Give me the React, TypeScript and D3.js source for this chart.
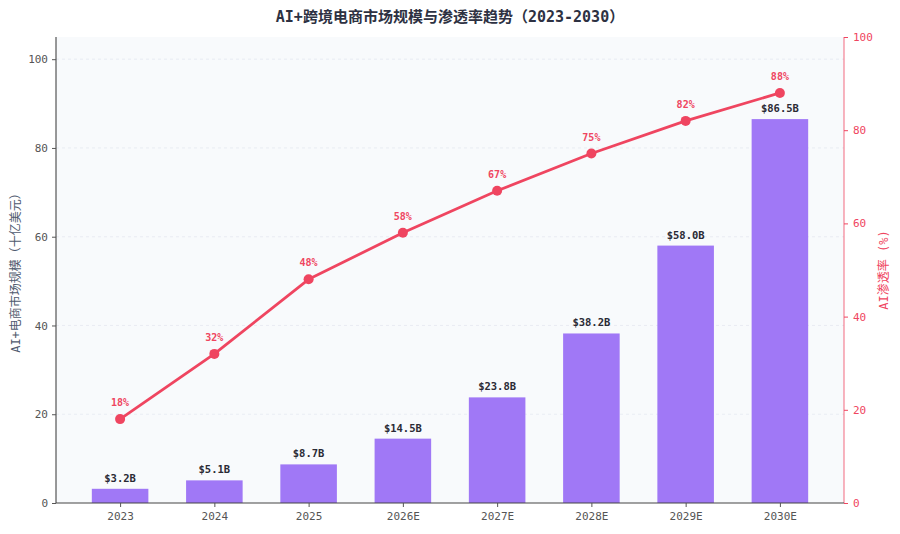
import React, { useRef, useEffect } from 'react';
import * as d3 from 'd3';

const years = ['2023', '2024', '2025', '2026E', '2027E', '2028E', '2029E', '2030E'];
const marketSize = [3.2, 5.1, 8.7, 14.5, 23.8, 38.2, 58.0, 86.5];
const penetration = [18, 32, 48, 58, 67, 75, 82, 88];
const leftTicks = [0, 20, 40, 60, 80, 100];
const rightTicks = [0, 20, 40, 60, 80, 100];

const W = 900;
const H = 534;
const MONO = '"DejaVu Sans Mono", "Noto Sans CJK SC", monospace';
const BAR = '#a078f6';
const LINE = '#ef4560';

export default function App() {
  const ref = useRef<SVGSVGElement | null>(null);

  useEffect(() => {
    document.body.style.margin = '0';
    if (!ref.current) return;
    const margin = { top: 37, right: 56, bottom: 31, left: 56 };
    const width = W - margin.left - margin.right;
    const height = H - margin.top - margin.bottom;

    const svg = d3.select(ref.current);
    svg.selectAll('*').remove();
    svg.append('rect').attr('width', W).attr('height', H).attr('fill', '#fff');

    const g = svg.append('g').attr('transform', `translate(${margin.left}, ${margin.top})`);

    const x = d3.scalePoint<string>().domain(years).range([0, width]).padding(0.68);
    const step = x.step();
    const barW = step * 0.6;
    const y = d3.scaleLinear().domain([0, 105]).range([height, 0]);
    const y2 = d3.scaleLinear().domain([0, 100]).range([height, 0]);

    g.append('rect').attr('width', width).attr('height', height).attr('fill', '#f8fafc');

    // grid
    g.append('g')
      .selectAll('line')
      .data(leftTicks.slice(1))
      .join('line')
      .attr('x1', 0)
      .attr('x2', width)
      .attr('y1', d => y(d))
      .attr('y2', d => y(d))
      .attr('stroke', '#e5e9f0')
      .attr('stroke-dasharray', '3,3')
      .attr('stroke-width', 0.8);

    // bars
    g.append('g')
      .selectAll('rect')
      .data(marketSize)
      .join('rect')
      .attr('x', (d, i) => (x(years[i]) as number) - barW / 2)
      .attr('y', d => y(d))
      .attr('width', barW)
      .attr('height', d => height - y(d))
      .attr('fill', BAR);

    g.append('g')
      .selectAll('text')
      .data(marketSize)
      .join('text')
      .attr('x', (d, i) => x(years[i]) as number)
      .attr('y', d => y(d) - 7)
      .attr('text-anchor', 'middle')
      .attr('font-family', MONO)
      .attr('font-size', 10.5)
      .attr('font-weight', 'bold')
      .attr('fill', '#2a2a35')
      .text(d => `$${d.toFixed(1)}B`);

    // line
    const line = d3.line<number>()
      .x((d, i) => x(years[i]) as number)
      .y(d => y2(d));

    g.append('path')
      .datum(penetration)
      .attr('fill', 'none')
      .attr('stroke', LINE)
      .attr('stroke-width', 2.8)
      .attr('stroke-linejoin', 'round')
      .attr('d', line);

    g.append('g')
      .selectAll('circle')
      .data(penetration)
      .join('circle')
      .attr('cx', (d, i) => x(years[i]) as number)
      .attr('cy', d => y2(d))
      .attr('r', 5)
      .attr('fill', LINE);

    g.append('g')
      .selectAll('text')
      .data(penetration)
      .join('text')
      .attr('x', (d, i) => x(years[i]) as number)
      .attr('y', d => y2(d) - 13)
      .attr('text-anchor', 'middle')
      .attr('font-family', MONO)
      .attr('font-size', 10)
      .attr('font-weight', 'bold')
      .attr('fill', LINE)
      .text(d => `${d}%`);

    // axes
    const left = g.append('g').call(d3.axisLeft(y).tickValues(leftTicks).tickSize(4).tickPadding(4));
    left.select('.domain').attr('stroke', '#333').attr('d', `M0,0V${height}`);
    left.selectAll('.tick line').attr('stroke', '#555');
    left.selectAll('.tick text').attr('font-family', MONO).attr('font-size', 11).attr('fill', '#555');

    const right = g.append('g')
      .attr('transform', `translate(${width}, 0)`)
      .call(d3.axisRight(y2).tickValues(rightTicks).tickSize(4).tickPadding(5));
    right.select('.domain').attr('stroke', LINE).attr('stroke-opacity', 0.8).attr('d', `M0,0V${height}`);
    right.selectAll('.tick line').attr('stroke', LINE);
    right.selectAll('.tick text').attr('font-family', MONO).attr('font-size', 11).attr('fill', LINE);

    const bottom = g.append('g')
      .attr('transform', `translate(0, ${height})`)
      .call(d3.axisBottom(x).tickSize(4).tickPadding(5));
    bottom.select('.domain').attr('stroke', '#444').attr('d', `M0,0H${width}`);
    bottom.selectAll('.tick line').attr('stroke', '#555');
    bottom.selectAll('.tick text').attr('font-family', MONO).attr('font-size', 11).attr('fill', '#555');

    // titles
    svg.append('text')
      .attr('x', W / 2)
      .attr('y', 22)
      .attr('text-anchor', 'middle')
      .attr('font-family', MONO)
      .attr('font-size', 15)
      .attr('font-weight', 'bold')
      .attr('fill', '#2d3142')
      .text('AI+跨境电商市场规模与渗透率趋势（2023-2030）');

    svg.append('text')
      .attr('transform', `translate(20, ${margin.top + height / 2}) rotate(-90)`)
      .attr('text-anchor', 'middle')
      .attr('font-family', MONO)
      .attr('font-size', 12)
      .attr('fill', '#505a6e')
      .text('AI+电商市场规模（十亿美元）');

    svg.append('text')
      .attr('transform', `translate(888, ${margin.top + height / 2}) rotate(-90)`)
      .attr('text-anchor', 'middle')
      .attr('font-family', MONO)
      .attr('font-size', 12)
      .attr('fill', LINE)
      .text('AI渗透率 (%)');
  }, []);

  return <svg ref={ref} width={W} height={H} style={{ display: 'block' }} />;
}
